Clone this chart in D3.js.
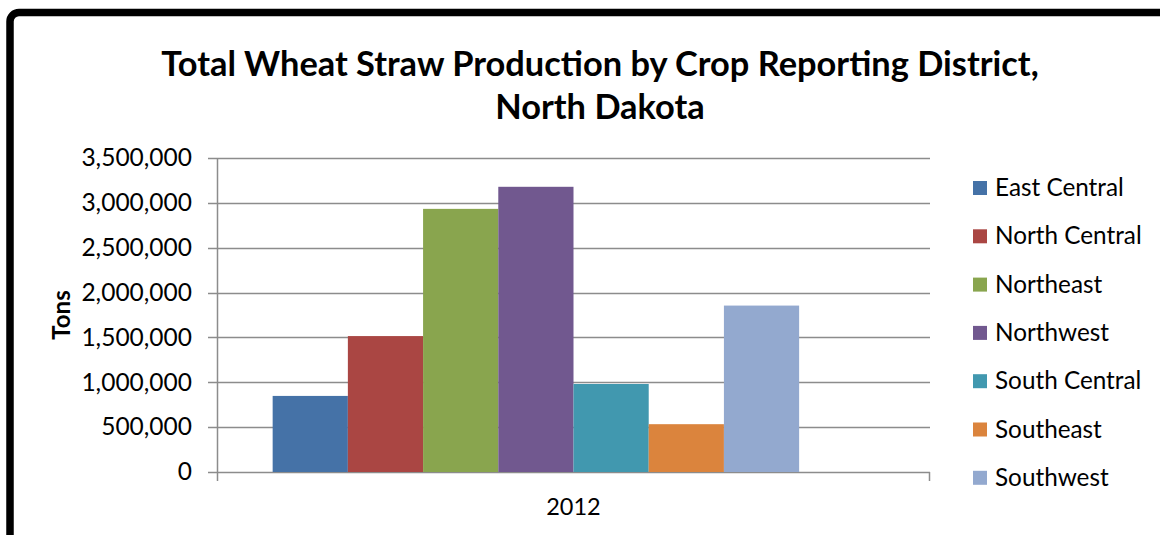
<!DOCTYPE html>
<html>
<head>
<meta charset="utf-8">
<script src="https://cdn.jsdelivr.net/npm/d3@7/dist/d3.min.js"></script>
<style>
  html, body { margin: 0; padding: 0; background: #fff; }
  svg { display: block; }
  text { font-family: Lato, "Open Sans", sans-serif; fill: #000; }
</style>
</head>
<body>
<svg id="chart" width="1160" height="535"></svg>
<script>
// Wheat straw production (tons) by crop reporting district, 2012
const years = ["2012"];
const districts = ["East Central", "North Central", "Northeast", "Northwest", "South Central", "Southeast", "Southwest"];
const tons = [848000, 1515000, 2933000, 3179000, 981000, 533000, 1855000];
const colors = ["#4572A7", "#AA4643", "#89A54E", "#71588F", "#4198AF", "#DB843D", "#93A9CF"];
const yTicks = [0, 500000, 1000000, 1500000, 2000000, 2500000, 3000000, 3500000];

const svg = d3.select("#chart");

// outer frame of the chart area
svg.append("rect")
  .attr("x", 10).attr("y", 12.5)
  .attr("width", 1200).attr("height", 600)
  .attr("rx", 9)
  .attr("fill", "none").attr("stroke", "#000").attr("stroke-width", 7.5);

const plot = { left: 217, right: 930, top: 158, bottom: 472 };

const y = d3.scaleLinear().domain([0, 3500000]).range([plot.bottom, plot.top]);

// one category band; the group holds room for 8 bar slots with ~150% gap
const x0 = d3.scaleBand().domain(years).range([plot.left, plot.right]).paddingOuter(0);
const slots = 8, gapRatio = 1.48;
const barW = x0.bandwidth() / (slots + gapRatio);
const groupStart = x0("2012") + barW * gapRatio / 2;
const x1 = d3.scaleBand().domain(districts)
  .range([groupStart, groupStart + barW * districts.length]).padding(0);

// gridlines
svg.append("g")
  .selectAll("line").data(yTicks).join("line")
  .attr("x1", plot.left - 9).attr("x2", plot.right)
  .attr("y1", d => Math.round(y(d)) + 0.5).attr("y2", d => Math.round(y(d)) + 0.5)
  .attr("stroke", "#8c8c8c").attr("stroke-width", 1.5);

// y axis
const yAxis = d3.axisLeft(y).tickValues(yTicks)
  .tickFormat(d3.format(",")).tickSize(0).tickPadding(25);
const gy = svg.append("g").attr("transform", `translate(${plot.left},0)`).call(yAxis);
gy.select(".domain").remove();
gy.selectAll("text").attr("font-size", 24.5).style("font-family", "Lato, sans-serif");
svg.append("line")
  .attr("x1", plot.left + 0.5).attr("x2", plot.left + 0.5)
  .attr("y1", plot.top).attr("y2", plot.bottom + 9)
  .attr("stroke", "#8c8c8c").attr("stroke-width", 1.5);

// x axis
const xAxis = d3.axisBottom(x0).tickSize(0).tickPadding(26);
const gx = svg.append("g").attr("transform", `translate(0,${plot.bottom})`).call(xAxis);
gx.select(".domain").remove();
gx.selectAll("text").attr("font-size", 23.5).style("font-family", "Lato, sans-serif");
svg.append("line")
  .attr("x1", plot.right - 0.5).attr("x2", plot.right - 0.5)
  .attr("y1", plot.bottom).attr("y2", plot.bottom + 9)
  .attr("stroke", "#8c8c8c").attr("stroke-width", 1.5);

// bars
svg.append("g")
  .selectAll("rect").data(districts).join("rect")
  .attr("x", d => x1(d))
  .attr("width", x1.bandwidth())
  .attr("y", (d, i) => y(tons[i]))
  .attr("height", (d, i) => y(0) - y(tons[i]))
  .attr("fill", (d, i) => colors[i]);

// titles
svg.append("text").attr("x", 600).attr("y", 76).attr("text-anchor", "middle")
  .attr("font-size", 34.4).attr("font-weight", "bold")
  .text("Total Wheat Straw Production by Crop Reporting District,");
svg.append("text").attr("x", 600).attr("y", 119).attr("text-anchor", "middle")
  .attr("font-size", 34.4).attr("font-weight", "bold")
  .text("North Dakota");

svg.append("text")
  .attr("transform", "translate(70,315) rotate(-90)")
  .attr("text-anchor", "middle").attr("font-size", 24).attr("font-weight", "bold")
  .text("Tons");

// legend
const legend = svg.append("g").attr("transform", "translate(973,188)");
const row = legend.selectAll("g").data(districts).join("g")
  .attr("transform", (d, i) => `translate(0,${i * 48.3})`);
row.append("rect").attr("x", 0).attr("y", -7).attr("width", 14).attr("height", 14)
  .attr("fill", (d, i) => colors[i]);
row.append("text").attr("x", 22).attr("y", 8).attr("font-size", 24.3).text(d => d);
</script>
</body>
</html>
